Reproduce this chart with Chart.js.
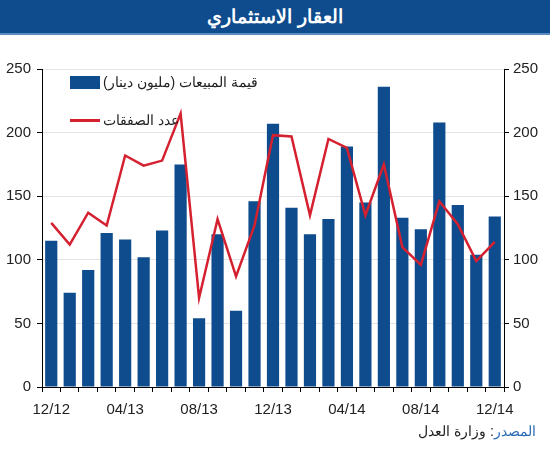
<!DOCTYPE html>
<html>
<head>
<meta charset="utf-8">
<script src="https://cdn.jsdelivr.net/npm/chart.js@4/dist/chart.umd.min.js"></script>
<style>
  body { margin: 0; background: #fff; width: 550px; height: 450px; overflow: hidden; font-family: "Liberation Sans", Arial, sans-serif; }
  #title { position: absolute; left: 0; top: 0; width: 550px; height: 33px; background: #0e4c8d; border-bottom: 2px solid #5a8cc4;
           color: #fff; font-weight: bold; font-size: 19px; text-align: center; line-height: 33px; direction: rtl; }
  #wrap { position: absolute; left: 0; top: 54px; width: 550px; height: 374px; }
  .leg { position: absolute; left: 70px; display: flex; align-items: center; font-size: 14px; color: #222; direction: ltr; }
  .leg span.t { direction: rtl; margin-left: 3px; }
  #src { position: absolute; right: 14px; top: 423px; font-size: 14px; direction: rtl; color: #222; }
  #src b { font-weight: normal; color: #2a6cb6; }
</style>
</head>
<body>
<div id="title">العقار الاستثماري</div>
<div id="wrap"><canvas id="c"></canvas></div>
<div class="leg" style="top:74px"><span style="display:inline-block;width:30px;height:13px;background:#0e4c8d"></span><span class="t">قيمة المبيعات (مليون دينار)</span></div>
<div class="leg" style="top:112px"><span style="display:inline-block;width:30px;height:3px;background:#d5202f"></span><span class="t">عدد الصفقات</span></div>
<div id="src"><b>المصدر</b>: وزارة العدل</div>
<script>
const months = ["12/12","01/13","02/13","03/13","04/13","05/13","06/13","07/13","08/13","09/13","10/13","11/13",
                "12/13","01/14","02/14","03/14","04/14","05/14","06/14","07/14","08/14","09/14","10/14","11/14","12/14"];
const salesValue = [115, 74, 92, 121, 116, 102, 123, 175, 54, 120, 60, 146, 207, 141, 120, 132, 189, 145, 236, 133, 124, 208, 143, 104, 134];
const dealsCount = [129, 112, 137, 127, 182, 174, 178, 215, 70, 132, 87, 127, 198, 197, 135, 195, 188, 135, 175, 110, 96, 146, 128, 99, 114];
const yTicks = [0, 50, 100, 150, 200, 250];

const tickFont = { size: 15, family: "Liberation Sans" };

new Chart(document.getElementById("c"), {
  data: {
    labels: months,
    datasets: [{
      type: "line",
      data: dealsCount,
      borderColor: "#d5202f",
      borderWidth: 2.5,
      pointRadius: 0,
      tension: 0,
      yAxisID: "y2",
      order: 0
    }, {
      type: "bar",
      data: salesValue,
      backgroundColor: "#0e4c8d",
      barPercentage: 0.66,
      categoryPercentage: 1,
      yAxisID: "y",
      order: 1
    }]
  },
  options: {
    responsive: true,
    maintainAspectRatio: false,
    animation: false,
    layout: { padding: { left: 0, right: 0, top: 15, bottom: 0 } },
    plugins: { legend: { display: false }, tooltip: { enabled: false } },
    scales: {
      x: {
        grid: { drawOnChartArea: false, tickLength: 5, tickColor: "#000", offset: true },
        border: { color: "#000" },
        ticks: {
          autoSkip: false, maxRotation: 0, color: "#222", font: tickFont, padding: 9,
          callback: function (v, i) { return i % 4 === 0 ? months[i] : ""; }
        }
      },
      y: {
        position: "left",
        min: 0, max: 250,
        afterBuildTicks: function (s) { s.ticks = yTicks.map(v => ({ value: v })); },
        afterFit: function (s) { s.width = 42; },
        grid: { color: "#e4e4e4", tickColor: "#000", tickLength: 5 },
        border: { color: "#000" },
        ticks: { color: "#222", font: tickFont, padding: 6 }
      },
      y2: {
        position: "right",
        min: 0, max: 250,
        afterBuildTicks: function (s) { s.ticks = yTicks.map(v => ({ value: v })); },
        afterFit: function (s) { s.width = 46; },
        grid: { drawOnChartArea: false, tickColor: "#000", tickLength: 5 },
        border: { color: "#000" },
        ticks: { color: "#222", font: tickFont, padding: 4 }
      }
    }
  }
});
</script>
</body>
</html>
